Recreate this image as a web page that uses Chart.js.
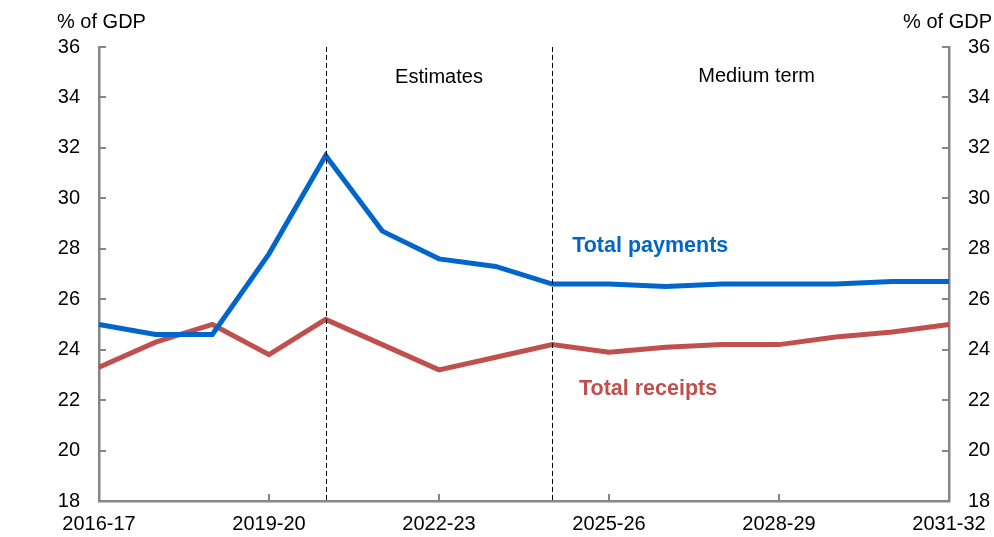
<!DOCTYPE html>
<html>
<head>
<meta charset="utf-8">
<script src="https://cdn.jsdelivr.net/npm/chart.js@4"></script>
<style>
  html, body { margin: 0; padding: 0; background: #ffffff; }
  #wrap { width: 994px; height: 537px; position: relative; }
</style>
</head>
<body>
<div id="wrap"><canvas id="chart" width="994" height="537"></canvas></div>
<script>
// Financial years on the horizontal axis
const years = ['2016-17','2017-18','2018-19','2019-20','2020-21','2021-22','2022-23','2023-24',
               '2024-25','2025-26','2026-27','2027-28','2028-29','2029-30','2030-31','2031-32'];
// Per cent of GDP
const totalPayments = [25.0, 24.6, 24.6, 27.8, 31.7, 28.7, 27.6, 27.3, 26.6, 26.6, 26.5, 26.6, 26.6, 26.6, 26.7, 26.7];
const totalReceipts = [23.3, 24.3, 25.0, 23.8, 25.2, 24.2, 23.2, 23.7, 24.2, 23.9, 24.1, 24.2, 24.2, 24.5, 24.7, 25.0];
// Axis settings
const yMin = 18, yMax = 36, yStep = 2;
const labelEvery = 3;
// Period dividers (category indices): start of estimates and of the medium term
const periodBreaks = [4, 8];
const periodNames = ['Estimates', 'Medium term'];

const AXIS_GREY = '#868686';
const BLUE = '#0066CC';
const RED = '#C0504D';
const FONT = "'Liberation Sans', Arial, sans-serif";

// Fixed plot frame inside the canvas
const FRAME = { left: 99, right: 949, top: 47, bottom: 501 };

const decorations = {
  id: 'decorations',
  afterDatasetsDraw(chart) {
    const { ctx, chartArea: a, scales } = chart;
    const x = scales.x, y = scales.y;
    ctx.save();

    // dashed period dividers
    ctx.strokeStyle = '#000000';
    ctx.lineWidth = 1;
    ctx.setLineDash([5, 3]);
    periodBreaks.forEach(i => {
      const px = Math.round(x.getPixelForValue(i)) + 0.5;
      ctx.beginPath();
      ctx.moveTo(px, a.top);
      ctx.lineTo(px, a.bottom);
      ctx.stroke();
    });
    ctx.setLineDash([]);

    // inward tick marks
    ctx.strokeStyle = AXIS_GREY;
    ctx.lineWidth = 2;
    for (let v = yMin; v <= yMax; v += yStep) {
      const py = Math.round(y.getPixelForValue(v));
      ctx.beginPath();
      ctx.moveTo(a.left, py); ctx.lineTo(a.left + 7, py);
      ctx.moveTo(a.right, py); ctx.lineTo(a.right - 7, py);
      ctx.stroke();
    }
    years.forEach((_, i) => {
      if (i % labelEvery !== 0 || i === 0 || i === years.length - 1) return;
      const px = Math.round(x.getPixelForValue(i));
      ctx.beginPath();
      ctx.moveTo(px, a.bottom); ctx.lineTo(px, a.bottom - 7);
      ctx.stroke();
    });

    // units above each axis
    ctx.fillStyle = '#000000';
    ctx.font = `20px ${FONT}`;
    ctx.textBaseline = 'middle';
    ctx.textAlign = 'left';
    ctx.fillText('% of GDP', 57, 22);
    ctx.textAlign = 'right';
    ctx.fillText('% of GDP', 992, 22);

    // period headings
    ctx.textAlign = 'center';
    const b0 = x.getPixelForValue(periodBreaks[0]);
    const b1 = x.getPixelForValue(periodBreaks[1]);
    const headY = y.getPixelForValue(34.8);
    ctx.fillText(periodNames[0], (b0 + b1) / 2, headY);
    ctx.fillText(periodNames[1], b1 + (a.right - b1) * 0.515, headY - 1);

    // series labels
    ctx.font = `bold 21.5px ${FONT}`;
    ctx.textAlign = 'left';
    ctx.fillStyle = BLUE;
    ctx.fillText('Total payments', x.getPixelForValue(8.35), y.getPixelForValue(28.1));
    ctx.fillStyle = RED;
    ctx.fillText('Total receipts', x.getPixelForValue(8.47), y.getPixelForValue(22.45));

    ctx.restore();
  }
};

const yAxis = (position, width) => ({
  type: 'linear',
  position,
  min: yMin,
  max: yMax,
  grid: { display: false, drawTicks: false },
  border: { display: true, color: AXIS_GREY, width: 2.5 },
  ticks: {
    stepSize: yStep,
    padding: 19,
    color: '#000000',
    font: { family: FONT, size: 20 }
  },
  afterFit(scale) { scale.width = width; }
});

new Chart(document.getElementById('chart'), {
  type: 'line',
  data: {
    labels: years,
    datasets: [
      { label: 'Total payments', data: totalPayments, borderColor: BLUE, borderWidth: 5,
        pointRadius: 0, tension: 0, fill: false, yAxisID: 'y' },
      { label: 'Total receipts', data: totalReceipts, borderColor: RED, borderWidth: 5,
        pointRadius: 0, tension: 0, fill: false, yAxisID: 'y' }
    ]
  },
  options: {
    responsive: false,
    animation: false,
    layout: { padding: { top: FRAME.top, left: 0, right: 0, bottom: 0 } },
    plugins: { legend: { display: false }, tooltip: { enabled: false }, title: { display: false } },
    scales: {
      x: {
        type: 'category',
        offset: false,
        grid: { display: false, drawTicks: false },
        border: { display: true, color: AXIS_GREY, width: 2.5 },
        ticks: {
          autoSkip: false,
          maxRotation: 0,
          padding: 11,
          color: '#000000',
          font: { family: FONT, size: 20 },
          callback(value, index) { return index % labelEvery === 0 ? years[index] : ''; }
        },
        afterFit(scale) { scale.height = 537 - FRAME.bottom; scale.paddingLeft = 0; scale.paddingRight = 0; }
      },
      y: yAxis('left', FRAME.left),
      y2: yAxis('right', 994 - FRAME.right)
    }
  },
  plugins: [decorations]
});
</script>
</body>
</html>
